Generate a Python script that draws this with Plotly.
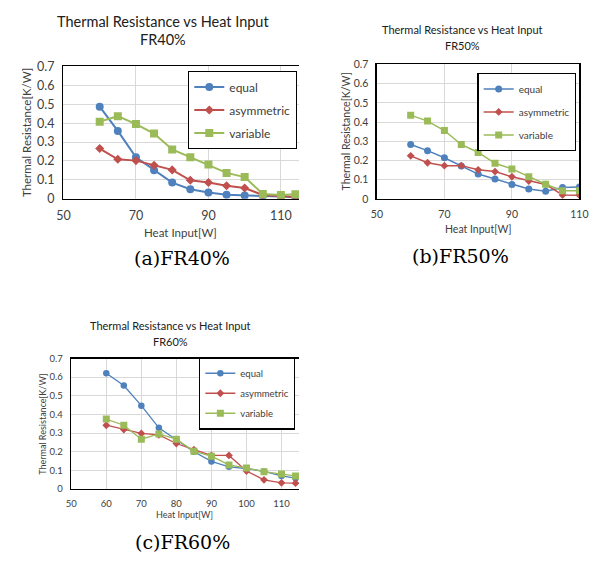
import plotly.graph_objects as go

W, H = 603, 569

# ---------------- data ----------------
series_names = ["equal", "asymmetric", "variable"]

x_a = [60, 65, 70, 75, 80, 85, 90, 95, 100, 105, 110, 114]
a_equal = [0.487, 0.359, 0.220, 0.151, 0.086, 0.051, 0.034, 0.022, 0.017, 0.015, 0.012, 0.008]
a_asym = [0.266, 0.209, 0.202, 0.177, 0.153, 0.098, 0.086, 0.069, 0.057, 0.020, 0.015, 0.010]
a_var = [0.408, 0.437, 0.395, 0.345, 0.261, 0.220, 0.182, 0.137, 0.115, 0.026, 0.020, 0.024]

x_b = [60, 65, 70, 75, 80, 85, 90, 95, 100, 105, 110]
b_equal = [0.283, 0.251, 0.214, 0.171, 0.129, 0.103, 0.075, 0.051, 0.039, 0.059, 0.061]
b_asym = [0.224, 0.188, 0.173, 0.173, 0.151, 0.142, 0.115, 0.093, 0.075, 0.020, 0.019]
b_var = [0.436, 0.405, 0.356, 0.283, 0.242, 0.185, 0.156, 0.115, 0.076, 0.042, 0.042]

x_c = [60, 65, 70, 75, 80, 85, 90, 95, 100, 105, 110, 114]
c_equal = [0.621, 0.555, 0.447, 0.328, 0.264, 0.200, 0.148, 0.119, 0.110, 0.094, 0.070, 0.058]
c_asym = [0.342, 0.319, 0.298, 0.290, 0.244, 0.211, 0.180, 0.180, 0.096, 0.049, 0.033, 0.031]
c_var = [0.375, 0.342, 0.267, 0.295, 0.267, 0.202, 0.176, 0.129, 0.112, 0.093, 0.080, 0.070]

y_ticks = [0, 0.1, 0.2, 0.3, 0.4, 0.5, 0.6, 0.7]
y_ticklabels = ["0", "0.1", "0.2", "0.3", "0.4", "0.5", "0.6", "0.7"]

title_main = "Thermal Resistance vs Heat Input"
x_title = "Heat Input[W]"
y_title = "Thermal Resistance[K/W]"
captions = ["(a)FR40%", "(b)FR50%", "(c)FR60%"]
subtitles = ["FR40%", "FR50%", "FR60%"]

colors = ["#4F81BD", "#C0504D", "#9BBB59"]
symbols = ["circle", "diamond", "square"]

FONT = "Lato"
TXT = "#404040"


def fx(px):
    return px / W


def fy(py):
    return 1 - py / H


fig = go.Figure()

panels = [
    dict(x=x_a, ys=[a_equal, a_asym, a_var], xa="x", ya="y", legend="legend",
         msize=[8, 7, 8], lw=2.0),
    dict(x=x_b, ys=[b_equal, b_asym, b_var], xa="x2", ya="y2", legend="legend2",
         msize=[7, 6, 7], lw=1.5),
    dict(x=x_c, ys=[c_equal, c_asym, c_var], xa="x3", ya="y3", legend="legend3",
         msize=[6.5, 6, 7], lw=1.3),
]

for p in panels:
    for i, name in enumerate(series_names):
        fig.add_trace(go.Scatter(
            x=p["x"], y=p["ys"][i], name=name, mode="lines+markers",
            line=dict(color=colors[i], width=p["lw"]),
            marker=dict(symbol=symbols[i], size=p["msize"][i], color=colors[i]),
            xaxis=p["xa"], yaxis=p["ya"], legend=p["legend"],
            legendgroup=p["legend"] + name, cliponaxis=True,
        ))

grid = "#D9D9D9"


def xaxis(domain, rng, tickvals, fs, anchor):
    return dict(domain=domain, range=rng, tickvals=tickvals, showgrid=True,
                gridcolor=grid, gridwidth=1, zeroline=False, showline=True,
                linecolor="#000000", linewidth=1.5, mirror=True, anchor=anchor,
                ticks="outside", ticklen=5, tickcolor="rgba(0,0,0,0)",
                tickfont=dict(family=FONT, size=fs, color=TXT), fixedrange=True)


def yaxis(domain, fs, anchor, mirror):
    return dict(domain=domain, range=[0, 0.7], tickvals=y_ticks, ticktext=y_ticklabels,
                showgrid=True, gridcolor=grid, gridwidth=1, zeroline=False,
                showline=True, linecolor="#000000", linewidth=1.5, mirror=mirror,
                anchor=anchor, ticks="outside", ticklen=5, tickcolor="rgba(0,0,0,0)",
                tickfont=dict(family=FONT, size=fs, color=TXT), fixedrange=True)


fig.update_layout(
    width=W, height=H, margin=dict(l=0, r=0, t=0, b=0),
    paper_bgcolor="white", plot_bgcolor="white", hovermode=False,
    xaxis=xaxis([fx(58), fx(300)], [50, 115], [50, 70, 90, 110], 12.5, "y"),
    yaxis=yaxis([fy(196), fy(60)], 12.5, "x", False),
    xaxis2=xaxis([fx(380), fx(588)], [50, 110], [50, 70, 90, 110], 10.5, "y2"),
    yaxis2=yaxis([fy(196), fy(58)], 10.5, "x2", True),
    xaxis3=xaxis([fx(66), fx(300)], [50, 115], [50, 60, 70, 80, 90, 100, 110], 9.5, "y3"),
    yaxis3=yaxis([fy(494), fy(360)], 9.5, "x3", False),
    legend=dict(x=fx(298), y=fy(65), xanchor="right", yanchor="top",
                bordercolor="#000000", borderwidth=1.2, bgcolor="white",
                font=dict(family=FONT, size=12, color=TXT), itemwidth=30,
                tracegroupgap=4),
    legend2=dict(x=fx(585), y=fy(67), xanchor="right", yanchor="top",
                 bordercolor="#000000", borderwidth=1.2, bgcolor="white",
                 font=dict(family=FONT, size=10, color=TXT), itemwidth=30,
                 tracegroupgap=4),
    legend3=dict(x=fx(296), y=fy(359), xanchor="right", yanchor="top",
                 bordercolor="#000000", borderwidth=1.2, bgcolor="white",
                 font=dict(family=FONT, size=9.5, color=TXT), itemwidth=30,
                 tracegroupgap=1),
    showlegend=True,
)

annots = []


def ann(text, x, y, size, family=FONT, color=TXT, angle=0):
    annots.append(dict(text=text, x=fx(x), y=fy(y), xref="paper", yref="paper",
                       showarrow=False, xanchor="center", yanchor="middle",
                       textangle=angle, font=dict(family=family, size=size, color=color)))


# titles
ann(title_main, 160, 14, 14.5, color="#202020")
ann(subtitles[0], 160, 32, 14.5, color="#202020")
ann(title_main, 468, 22, 11, color="#202020")
ann(subtitles[1], 468, 39, 11, color="#202020")
ann(title_main, 168, 326, 11, color="#202020")
ann(subtitles[2], 168, 343, 11, color="#202020")

# axis titles
ann(x_title, 178, 231, 11.5)
ann(y_title, 20, 128, 11.5, angle=-90)
ann(x_title, 484, 227, 10.5)
ann(y_title, 348, 127, 10.5, angle=-90)
ann(x_title, 182, 520, 9)
ann(y_title, 37, 428, 9, angle=-90)

# captions
ann(captions[0], 180, 257, 19, family="DejaVu Serif", color="#000000")
ann(captions[1], 466, 255, 19, family="DejaVu Serif", color="#000000")
ann(captions[2], 180, 548, 19, family="DejaVu Serif", color="#000000")

fig.update_layout(annotations=annots)

fig.write_html("out.html", config={"displayModeBar": False, "staticPlot": True},
               post_script="document.body.style.margin='0';")
